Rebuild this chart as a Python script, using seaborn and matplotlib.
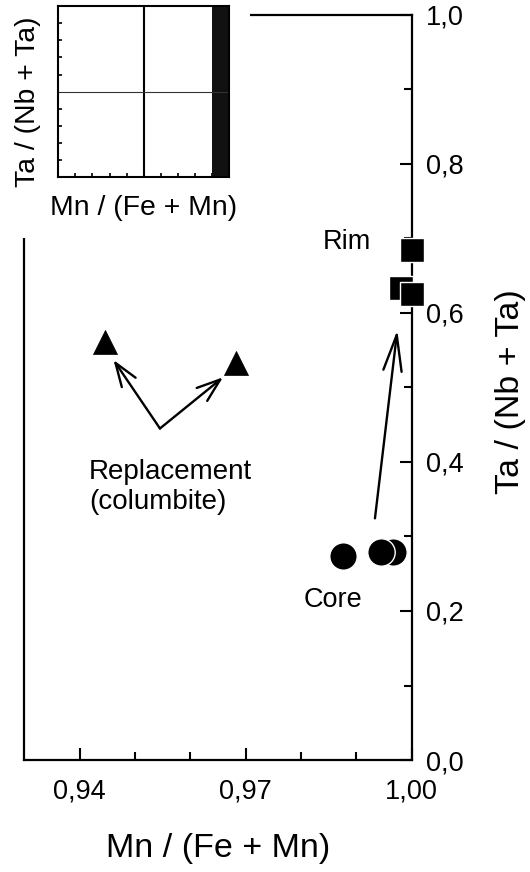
import matplotlib
matplotlib.use("Agg")
import matplotlib.pyplot as plt
from matplotlib.patches import Rectangle
import pandas as pd
import seaborn as sns

# ---------------- data ----------------
core_x = [0.9966, 0.9945, 0.9876]
core_y = [0.279, 0.279, 0.274]
rim_x = [0.99815, 1.0000, 1.0000]
rim_y = [0.633, 0.626, 0.684]
repl_x = [0.9446, 0.9682]
repl_y = [0.561, 0.533]

x_ticks = [0.94, 0.97, 1.00]
x_ticklabels = ["0,94", "0,97", "1,00"]
x_minor = [0.95, 0.96, 0.98, 0.99]
y_ticks = [0.0, 0.2, 0.4, 0.6, 0.8, 1.0]
y_ticklabels = ["0,0", "0,2", "0,4", "0,6", "0,8", "1,0"]
y_minor = [0.1, 0.3, 0.5, 0.7, 0.9]

core_rim_arrow = [(0.99336, 0.3244), (0.9974, 0.577)]
repl_arrow_start = (0.9545, 0.445)
repl_arrow_ends = [(0.9461, 0.537), (0.9659, 0.5137)]

inset_ticks = [0.1, 0.2, 0.3, 0.4, 0.6, 0.7, 0.8, 0.9]
inset_bar = (0.9, 1.0)
inset_lines = 0.5

xlabel = "Mn / (Fe + Mn)"
ylabel = "Ta / (Nb + Ta)"

# ---------------- style ----------------
sns.set_theme(style="ticks")
plt.rcParams["font.family"] = ["Liberation Sans", "DejaVu Sans"]
plt.rcParams["axes.edgecolor"] = "black"
plt.rcParams["xtick.color"] = "black"
plt.rcParams["ytick.color"] = "black"
plt.rcParams["text.color"] = "black"
plt.rcParams["axes.labelcolor"] = "black"

fig = plt.figure(figsize=(5.3, 8.72), dpi=100)
ax = fig.add_axes([0.04604, 0.12844, 0.73075, 0.85436])

core_df = pd.DataFrame({"x": core_x, "y": core_y})
rim_df = pd.DataFrame({"x": rim_x, "y": rim_y})
repl_df = pd.DataFrame({"x": repl_x, "y": repl_y})

sns.scatterplot(data=core_df, x="x", y="y", ax=ax, marker="o", s=390,
                color="black", edgecolor="white", linewidth=1.0,
                clip_on=False, zorder=4, legend=False)
sns.scatterplot(data=rim_df, x="x", y="y", ax=ax, marker="s", s=300,
                color="black", edgecolor="white", linewidth=1.0,
                clip_on=False, zorder=4, legend=False)
sns.scatterplot(data=repl_df, x="x", y="y", ax=ax, marker="^", s=300,
                color="black", edgecolor="black", linewidth=0.5,
                clip_on=False, zorder=4, legend=False)

ax.set_xlim(0.93, 1.00)
ax.set_ylim(0.0, 1.0)
ax.set_xticks(x_ticks)
ax.set_xticklabels(x_ticklabels)
ax.set_xticks(x_minor, minor=True)
ax.set_yticks(y_ticks)
ax.set_yticklabels(y_ticklabels)
ax.set_yticks(y_minor, minor=True)

for s in ax.spines.values():
    s.set_visible(True)
    s.set_linewidth(1.6)
    s.set_color("black")

ax.tick_params(axis="y", which="both", left=False, right=True,
               labelleft=False, labelright=True, direction="in")
ax.tick_params(axis="x", which="both", top=False, bottom=True, direction="in")
ax.tick_params(which="major", length=8.6, width=1.5, labelsize=19.5)
ax.tick_params(axis="y", which="major", pad=10)
ax.tick_params(axis="x", which="major", pad=13)
ax.tick_params(which="minor", length=5.8, width=1.5)

ax.set_xlabel(xlabel, fontsize=24.5)
ax.set_ylabel(ylabel, fontsize=24.5)
ax.yaxis.set_label_position("right")
ax.xaxis.set_label_coords(0.501, -0.119)
ax.yaxis.set_label_coords(1.256, 0.495)
ax.xaxis.label.set_va("center")
ax.yaxis.label.set_va("center")
ax.yaxis.label.set_ha("center")

# annotations
arrow_big = dict(arrowstyle="->,head_length=1.3,head_width=0.33", lw=1.7,
                 color="black", shrinkA=0, shrinkB=0, mutation_scale=20)
ax.annotate("", xy=core_rim_arrow[1], xytext=core_rim_arrow[0],
            arrowprops=arrow_big, zorder=3)
arrow_small = dict(arrowstyle="->,head_length=0.85,head_width=0.3", lw=1.7,
                   color="black", shrinkA=0, shrinkB=0, mutation_scale=20)
for end in repl_arrow_ends:
    ax.annotate("", xy=end, xytext=repl_arrow_start,
                arrowprops=arrow_small, zorder=3)

ax.text(0.98825, 0.6957, "Rim", fontsize=19.5, ha="center", va="center")
ax.text(0.98578, 0.2148, "Core", fontsize=19.5, ha="center", va="center")
ax.text(0.94168, 0.3664, "Replacement\n(columbite)", fontsize=20,
        ha="left", va="center", multialignment="left")

# white cover over top-left of main axes
fig.add_artist(Rectangle((0, 1 - 238 / 872), 250 / 530, 238 / 872,
                         transform=fig.transFigure, facecolor="white",
                         edgecolor="none", zorder=1))

# inset
ins = fig.add_axes([0.1100, 0.7967, 0.3226, 0.1964], zorder=2)
ins.set_facecolor("white")
ins.set_xlim(0, 1)
ins.set_ylim(0, 1)
ins.axvspan(inset_bar[0], inset_bar[1], color="#111111", lw=0)
ins.axvline(inset_lines, color="black", lw=1.5)
ins.axhline(inset_lines, color="#333333", lw=0.8)
ins.set_xticks(inset_ticks)
ins.set_yticks(inset_ticks)
ins.tick_params(which="both", direction="in", length=3, width=1.2,
                labelleft=False, labelbottom=False, left=True, bottom=True)
for s in ins.spines.values():
    s.set_visible(True)
    s.set_linewidth(1.5)
    s.set_color("black")
ins.set_xlabel(xlabel, fontsize=20.4)
ins.set_ylabel(ylabel, fontsize=20.4)
ins.xaxis.set_label_coords(0.501, -0.179)
ins.yaxis.set_label_coords(-0.177, 0.4425)
ins.xaxis.label.set_va("center")
ins.yaxis.label.set_va("center")

fig.savefig("out.png", dpi=100)
